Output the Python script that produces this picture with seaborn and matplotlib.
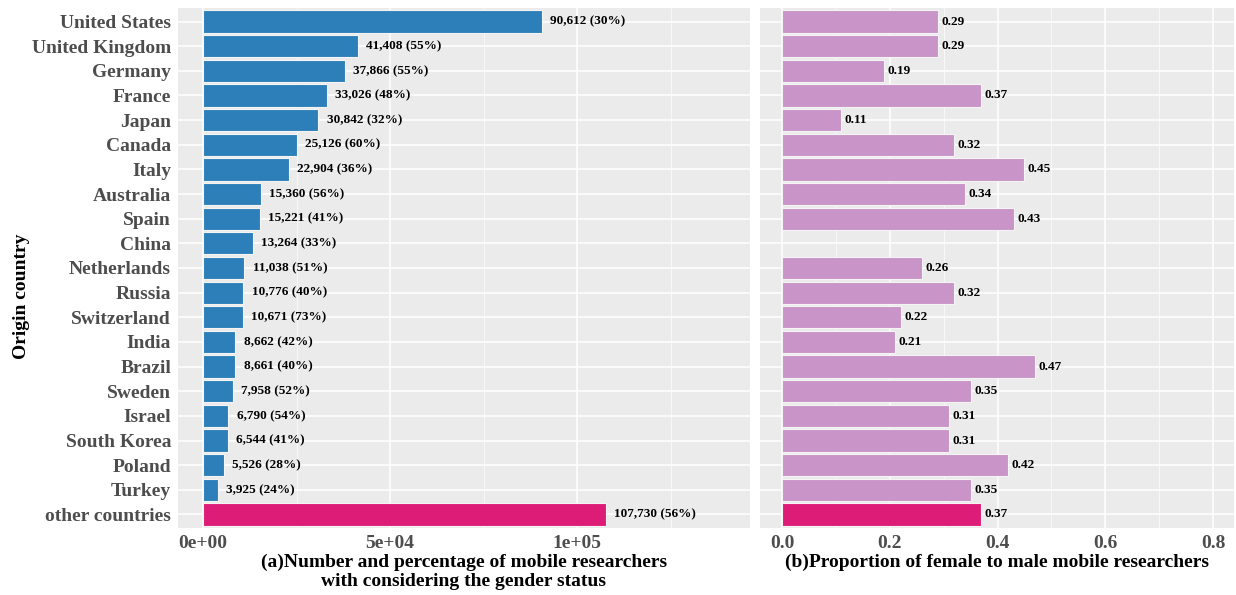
import numpy as np
import pandas as pd
import matplotlib
matplotlib.use("Agg")
import matplotlib.pyplot as plt
import seaborn as sns
from matplotlib.ticker import FixedLocator, MultipleLocator, FuncFormatter

# data
countries = ["United States", "United Kingdom", "Germany", "France", "Japan", "Canada",
             "Italy", "Australia", "Spain", "China", "Netherlands", "Russia", "Switzerland",
             "India", "Brazil", "Sweden", "Israel", "South Korea", "Poland", "Turkey",
             "other countries"]
counts = [90612, 41408, 37866, 33026, 30842, 25126, 22904, 15360, 15221, 13264, 11038,
          10776, 10671, 8662, 8661, 7958, 6790, 6544, 5526, 3925, 107730]
female_pct = [30, 55, 55, 48, 32, 60, 36, 56, 41, 33, 51, 40, 73, 42, 40, 52, 54, 41, 28, 24, 56]
# China has no value in panel (b)
ratio = [0.29, 0.29, 0.19, 0.37, 0.11, 0.32, 0.45, 0.34, 0.43, np.nan, 0.26, 0.32, 0.22,
         0.21, 0.47, 0.35, 0.31, 0.31, 0.42, 0.35, 0.37]

blue = "#2C7FB8"
pink = "#DD1C77"
lilac = "#C994C7"

sns.set_theme(style="darkgrid", rc={
    "axes.facecolor": "#EBEBEB",
    "grid.color": "white",
    "axes.edgecolor": "none",
})
plt.rcParams["font.family"] = ["Liberation Serif", "DejaVu Serif"]
plt.rcParams["font.weight"] = "bold"

df = pd.DataFrame({"country": countries, "count": counts, "pct": female_pct, "ratio": ratio})
df_b = df.dropna(subset=["ratio"])

pal_a = {c: (pink if c == "other countries" else blue) for c in countries}
pal_b = {c: (pink if c == "other countries" else lilac) for c in countries}

fig = plt.figure(figsize=(12.36, 5.95), dpi=100)
ax1 = fig.add_axes([178 / 1236, 1 - 528 / 595, (750 - 178) / 1236, (528 - 8) / 595])
ax2 = fig.add_axes([760 / 1236, 1 - 528 / 595, (1234 - 760) / 1236, (528 - 8) / 595])

sns.barplot(data=df, x="count", y="country", hue="country", palette=pal_a, order=countries,
            legend=False, orient="h", width=0.9, saturation=1, edgecolor="#F4F4F4",
            linewidth=0.8, ax=ax1)
sns.barplot(data=df_b, x="ratio", y="country", hue="country", palette=pal_b, order=countries,
            hue_order=countries, legend=False, orient="h", width=0.9, saturation=1,
            edgecolor="#F4F4F4", linewidth=0.8, ax=ax2)

for i, (c, p) in enumerate(zip(counts, female_pct)):
    ax1.annotate(f"{c:,} ({p}%)", xy=(c, i), xytext=(6, 0), textcoords="offset points",
                 va="center", ha="left", fontsize=9.5, fontweight="bold", color="black")
for i, r in enumerate(ratio):
    if not np.isnan(r):
        ax2.annotate(f"{r:.2f}", xy=(r, i), xytext=(2.5, 0), textcoords="offset points",
                     va="center", ha="left", fontsize=9.5, fontweight="bold", color="black")

ax1.set_xlim(-6700, 146200)
ax2.set_xlim(-0.041, 0.839)
for ax in (ax1, ax2):
    ax.set_ylim(20.55, -0.55)
    ax.grid(True, which="major", color="white", linewidth=1.1)
    ax.grid(True, which="minor", axis="x", color="white", linewidth=0.5)
    ax.tick_params(axis="both", which="major", length=3, width=0.8, color="#333333",
                   labelsize=14, labelcolor="#4D4D4D", pad=2)
    ax.tick_params(axis="x", which="minor", length=0)
    for s in ax.spines.values():
        s.set_visible(False)

ax1.xaxis.set_major_locator(FixedLocator([0, 50000, 100000]))
ax1.xaxis.set_minor_locator(MultipleLocator(25000))
ax1.xaxis.set_major_formatter(FuncFormatter(lambda v, _: f"{v:.0e}"))
ax2.xaxis.set_major_locator(MultipleLocator(0.2))
ax2.xaxis.set_minor_locator(MultipleLocator(0.1))
ax2.xaxis.set_major_formatter(FuncFormatter(lambda v, _: f"{v:.1f}"))
ax2.set_yticklabels([])

for lab in ax1.get_yticklabels() + ax1.get_xticklabels() + ax2.get_xticklabels():
    lab.set_fontweight("bold")

ax1.set_xlabel("(a)Number and percentage of mobile researchers\nwith considering the gender status",
               fontsize=14, fontweight="bold", color="black", labelpad=1, linespacing=1.15)
ax2.set_xlabel("(b)Proportion of female to male mobile researchers",
               fontsize=14, fontweight="bold", color="black", labelpad=1)
ax1.set_ylabel("Origin country", fontsize=14, fontweight="bold", color="black")
ax1.yaxis.set_label_coords(-148 / 572, 0.445)
ax2.set_ylabel("")

fig.savefig("out.png", dpi=100, facecolor="white")
